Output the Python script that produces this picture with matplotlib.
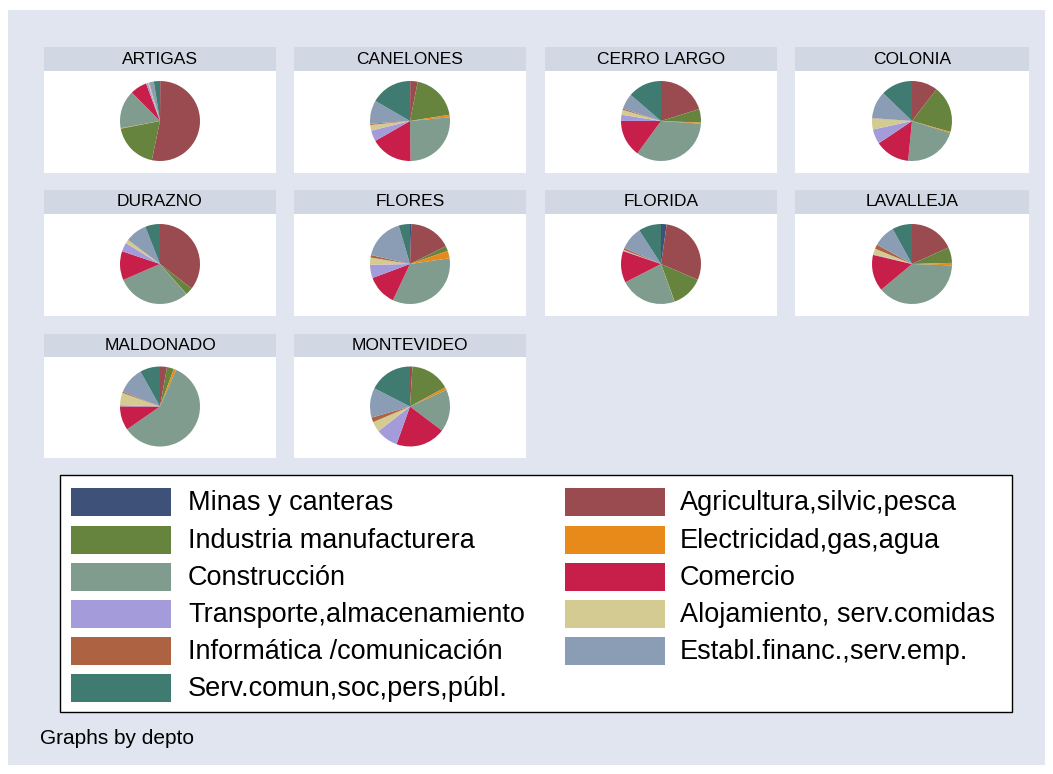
import matplotlib
matplotlib.use("Agg")
import matplotlib.pyplot as plt
from matplotlib.patches import Rectangle

plt.rcParams['font.family'] = ['Liberation Sans', 'DejaVu Sans']

sectors = ['Minas y canteras', 'Agricultura,silvic,pesca', 'Industria manufacturera',
           'Electricidad,gas,agua', 'Construcción', 'Comercio',
           'Transporte,almacenamiento', 'Alojamiento, serv.comidas',
           'Informática /comunicación', 'Establ.financ.,serv.emp.',
           'Serv.comun,soc,pers,públ.']
colors = ['#3E5279', '#9A4B50', '#67843F', '#E88A1A', '#7F9C8F', '#C81F4A',
          '#A49BDB', '#D3CB91', '#AD6342', '#8A9DB5', '#3F7B71']

deptos = ['ARTIGAS', 'CANELONES', 'CERRO LARGO', 'COLONIA', 'DURAZNO',
          'FLORES', 'FLORIDA', 'LAVALLEJA', 'MALDONADO', 'MONTEVIDEO']

# shares (%) in sector order
artigas = [0.1, 53.6, 18.8, 0.2, 15.6, 6.8, 0.8, 0.4, 0.2, 1.8, 2.5]
canelones = [0.1, 3.0, 19.5, 1.0, 26.4, 17.0, 4.4, 2.3, 0.5, 9.5, 16.7]
cerro_largo = [0.0, 20.2, 5.5, 0.4, 34.0, 15.0, 2.5, 2.0, 0.5, 6.3, 13.7]
colonia = [0.0, 10.5, 19.0, 0.5, 21.7, 14.1, 6.0, 4.5, 0.1, 11.1, 12.8]
durazno = [0.0, 35.6, 3.0, 0.1, 30.0, 11.7, 3.6, 1.5, 0.1, 8.7, 6.0]
flores = [0.5, 17.0, 2.0, 3.0, 34.0, 12.2, 5.3, 2.9, 1.0, 16.7, 4.5]
florida = [2.3, 29.4, 13.1, 0.1, 23.1, 12.9, 0.3, 0.2, 0.8, 9.4, 9.2]
lavalleja = [0.0, 18.2, 6.3, 1.0, 38.3, 14.7, 0.3, 2.3, 1.8, 8.9, 8.0]
maldonado = [0.0, 2.8, 2.8, 1.0, 58.6, 9.7, 0.5, 5.0, 0.5, 10.8, 8.1]
montevideo = [0.0, 1.0, 16.1, 1.1, 17.1, 20.2, 9.0, 4.2, 1.9, 12.0, 17.5]
shares = [artigas, canelones, cerro_largo, colonia, durazno,
          flores, florida, lavalleja, maldonado, montevideo]

W, H = 1053, 774
fig = plt.figure(figsize=(W / 100, H / 100), dpi=100)
fig.patch.set_facecolor('white')


def box(x0, y0, x1, y1):
    return [x0 / W, 1 - y1 / H, (x1 - x0) / W, (y1 - y0) / H]


bg = fig.add_axes([0, 0, 1, 1])
bg.set_xlim(0, W)
bg.set_ylim(H, 0)
bg.axis('off')
bg.add_patch(Rectangle((8, 10), 1037, 755, facecolor='#E0E5EF', edgecolor='none'))

col_x = [(44, 276), (294, 526), (545, 777), (795, 1029)]
row_y = [(47, 71, 173), (190, 214, 316), (334, 357, 458)]

for i, name in enumerate(deptos):
    r, c = divmod(i, 4)
    x0, x1 = col_x[c]
    yh, yw, yb = row_y[r]
    hax = fig.add_axes(box(x0, yh, x1, yw))
    hax.set_facecolor('#D2D8E3')
    hax.set_xticks([])
    hax.set_yticks([])
    for s in hax.spines.values():
        s.set_visible(False)
    hax.text(0.5, 0.5, name, ha='center', va='center', fontsize=12.5)

    ax = fig.add_axes(box(x0, yw, x1, yb))
    w = x1 - x0
    h = yb - yw
    ax.pie(shares[i], colors=colors, startangle=90, counterclock=False,
           radius=40, center=(0, 1), wedgeprops=dict(linewidth=0))
    ax.set_xlim(-w / 2, w / 2)
    ax.set_ylim(-h / 2, h / 2)
    ax.set_aspect('equal')
    ax.set_frame_on(True)
    ax.set_facecolor('white')
    ax.set_xticks([])
    ax.set_yticks([])
    for s in ax.spines.values():
        s.set_visible(False)

# legend box
bg.add_patch(Rectangle((60, 475), 952, 237, facecolor='white',
                       edgecolor='black', linewidth=1))
row_centers = [502, 540, 577, 614, 651, 688]
for k, lab in enumerate(sectors):
    r, c = divmod(k, 2)
    sx = 71 if c == 0 else 565
    tx = 188 if c == 0 else 680
    yc = row_centers[r]
    bg.add_patch(Rectangle((sx, yc - 14), 100, 28, facecolor=colors[k], edgecolor='none'))
    bg.text(tx, yc + 1, lab, ha='left', va='center', fontsize=19.5)

bg.text(40, 738, 'Graphs by depto', ha='left', va='center', fontsize=15)

fig.savefig('out.png', dpi=100)
